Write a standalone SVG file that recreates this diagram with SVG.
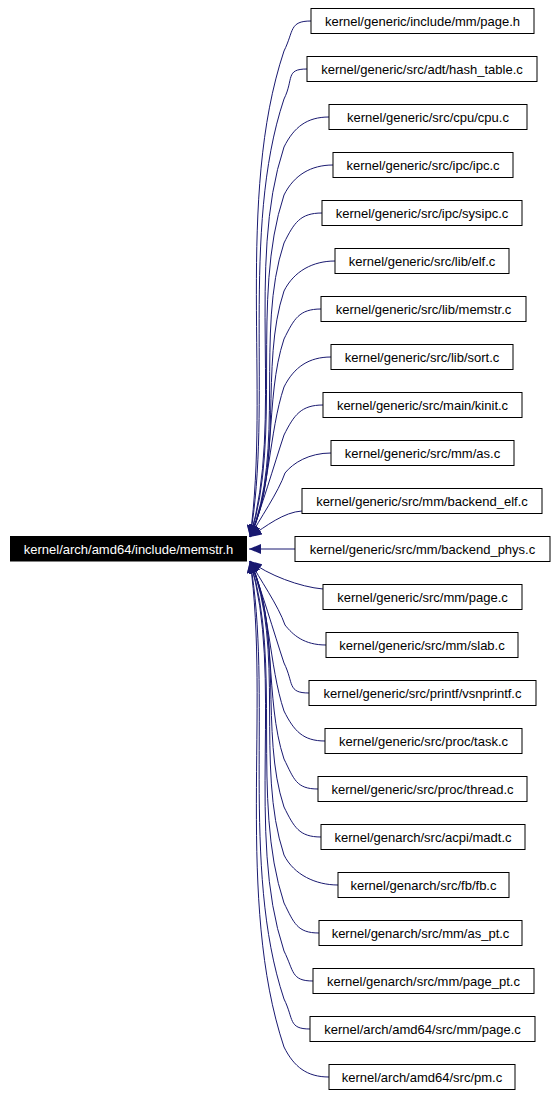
<svg xmlns="http://www.w3.org/2000/svg" width="556" height="1095" viewBox="0 0 556 1095">
<style>
.node rect{fill:#ffffff;stroke:#000000;stroke-width:1}
.node text{font-family:"Liberation Sans",Arial,sans-serif;font-size:13px;fill:#000000;text-anchor:middle}
#root rect{fill:#000000;stroke:#000000}
#root text{fill:#ffffff}
#edges path{fill:none;stroke:#191970;stroke-width:1}
</style>
<defs>
<marker id="arrow" markerUnits="userSpaceOnUse" markerWidth="12" markerHeight="10" refX="12" refY="5" orient="auto" viewBox="0 0 12 10">
<path d="M0,0 L12,5 L0,10 z" fill="#191970"/>
</marker>
</defs>
<rect width="556" height="1095" fill="#ffffff"/>
<g id="edges">
<path marker-end="url(#arrow)" d="M311,21 C289,21 294,31 284,51 C235.4,196.8 270.3,392.7 250,537"/>
<path marker-end="url(#arrow)" d="M307,69 C285,69 294,79 284,99 C240.2,230.4 272.9,407.6 250,537"/>
<path marker-end="url(#arrow)" d="M329,117 C307,117 294,127 284,147 C245,264 284.3,422.6 250,537"/>
<path marker-end="url(#arrow)" d="M333,165 C311,165 294,175 284,195 C249.8,297.6 283.1,437.1 250,537"/>
<path marker-end="url(#arrow)" d="M322,213 C300,213 294,223 284,243 C254.6,331.2 286.3,451.4 250,537"/>
<path marker-end="url(#arrow)" d="M335,261 C313,261 294,271 284,291 C259.4,364.8 284.1,465.7 250,537"/>
<path marker-end="url(#arrow)" d="M321,309 C299,309 294,319 284,339 C264.2,398.4 277.4,480.2 250,537"/>
<path marker-end="url(#arrow)" d="M331,357 C309,357 294,367 284,387 C269,432 269.7,494.4 250,537"/>
<path marker-end="url(#arrow)" d="M323,405 C301,405 294,415 284,435 C273.8,465.6 261.5,508.6 250,537"/>
<path marker-end="url(#arrow)" d="M331,453 C309,453 293,463 285,473 C278.6,492 259,520 250,537"/>
<path marker-end="url(#arrow)" d="M302,511 C284,512 266,526 250,537"/>
<path marker-end="url(#arrow)" d="M295,549 L249,549"/>
<path marker-end="url(#arrow)" d="M323,589 C300,587 268,575 250,561"/>
<path marker-end="url(#arrow)" d="M326,645 C304,645 293,635 285,625 C278.6,606 259,578 250,561"/>
<path marker-end="url(#arrow)" d="M309,693 C287,693 294,683 284,663 C273.8,632.4 261.5,589.4 250,561"/>
<path marker-end="url(#arrow)" d="M325,741 C303,741 294,731 284,711 C269,666 269.7,603.6 250,561"/>
<path marker-end="url(#arrow)" d="M318,789 C296,789 294,779 284,759 C264.2,699.6 277.4,617.8 250,561"/>
<path marker-end="url(#arrow)" d="M321,837 C299,837 294,827 284,807 C259.4,733.2 284.1,632.3 250,561"/>
<path marker-end="url(#arrow)" d="M338,885 C316,885 294,875 284,855 C254.6,766.8 286.3,646.6 250,561"/>
<path marker-end="url(#arrow)" d="M319,933 C297,933 294,923 284,903 C249.8,800.4 283.1,660.9 250,561"/>
<path marker-end="url(#arrow)" d="M313,981 C291,981 294,971 284,951 C245,834 284.3,675.4 250,561"/>
<path marker-end="url(#arrow)" d="M310,1029 C288,1029 294,1019 284,999 C240.2,867.6 272.9,690.4 250,561"/>
<path marker-end="url(#arrow)" d="M329,1077 C307,1077 294,1067 284,1047 C235.4,901.2 270.3,705.3 250,561"/>
</g>
<g id="root" class="node"><rect x="10.5" y="536.5" width="236" height="24.5"/><text x="128.5" y="553.5">kernel/arch/amd64/include/memstr.h</text></g>
<g id="n0" class="node"><rect x="311" y="8.5" width="223" height="25"/><text x="422.5" y="25.5">kernel/generic/include/mm/page.h</text></g>
<g id="n1" class="node"><rect x="307" y="56.5" width="230" height="25"/><text x="422" y="73.5">kernel/generic/src/adt/hash_table.c</text></g>
<g id="n2" class="node"><rect x="329" y="104.5" width="198" height="25"/><text x="428" y="121.5">kernel/generic/src/cpu/cpu.c</text></g>
<g id="n3" class="node"><rect x="333" y="152.5" width="180" height="25"/><text x="423" y="169.5">kernel/generic/src/ipc/ipc.c</text></g>
<g id="n4" class="node"><rect x="322" y="200.5" width="200" height="25"/><text x="422" y="217.5">kernel/generic/src/ipc/sysipc.c</text></g>
<g id="n5" class="node"><rect x="335" y="248.5" width="174" height="25"/><text x="422" y="265.5">kernel/generic/src/lib/elf.c</text></g>
<g id="n6" class="node"><rect x="321" y="296.5" width="205" height="25"/><text x="423.5" y="313.5">kernel/generic/src/lib/memstr.c</text></g>
<g id="n7" class="node"><rect x="331" y="344.5" width="182" height="25"/><text x="422" y="361.5">kernel/generic/src/lib/sort.c</text></g>
<g id="n8" class="node"><rect x="323" y="392.5" width="199" height="25"/><text x="422.5" y="409.5">kernel/generic/src/main/kinit.c</text></g>
<g id="n9" class="node"><rect x="331" y="440.5" width="183" height="25"/><text x="422.5" y="457.5">kernel/generic/src/mm/as.c</text></g>
<g id="n10" class="node"><rect x="302" y="488.5" width="240" height="25"/><text x="422" y="505.5">kernel/generic/src/mm/backend_elf.c</text></g>
<g id="n11" class="node"><rect x="295" y="536.5" width="255" height="25"/><text x="422.5" y="553.5">kernel/generic/src/mm/backend_phys.c</text></g>
<g id="n12" class="node"><rect x="323" y="584.5" width="199" height="25"/><text x="422.5" y="601.5">kernel/generic/src/mm/page.c</text></g>
<g id="n13" class="node"><rect x="326" y="632.5" width="192" height="25"/><text x="422" y="649.5">kernel/generic/src/mm/slab.c</text></g>
<g id="n14" class="node"><rect x="309" y="680.5" width="227" height="25"/><text x="422.5" y="697.5">kernel/generic/src/printf/vsnprintf.c</text></g>
<g id="n15" class="node"><rect x="325" y="728.5" width="197" height="25"/><text x="423.5" y="745.5">kernel/generic/src/proc/task.c</text></g>
<g id="n16" class="node"><rect x="318" y="776.5" width="209" height="25"/><text x="422.5" y="793.5">kernel/generic/src/proc/thread.c</text></g>
<g id="n17" class="node"><rect x="321" y="824.5" width="204" height="25"/><text x="423" y="841.5">kernel/genarch/src/acpi/madt.c</text></g>
<g id="n18" class="node"><rect x="338" y="872.5" width="171" height="25"/><text x="423.5" y="889.5">kernel/genarch/src/fb/fb.c</text></g>
<g id="n19" class="node"><rect x="319" y="920.5" width="203" height="25"/><text x="420.5" y="937.5">kernel/genarch/src/mm/as_pt.c</text></g>
<g id="n20" class="node"><rect x="313" y="968.5" width="221" height="25"/><text x="423.5" y="985.5">kernel/genarch/src/mm/page_pt.c</text></g>
<g id="n21" class="node"><rect x="310" y="1016.5" width="225" height="25"/><text x="422.5" y="1033.5">kernel/arch/amd64/src/mm/page.c</text></g>
<g id="n22" class="node"><rect x="329" y="1064.5" width="186" height="25"/><text x="422" y="1081.5">kernel/arch/amd64/src/pm.c</text></g>
</svg>
